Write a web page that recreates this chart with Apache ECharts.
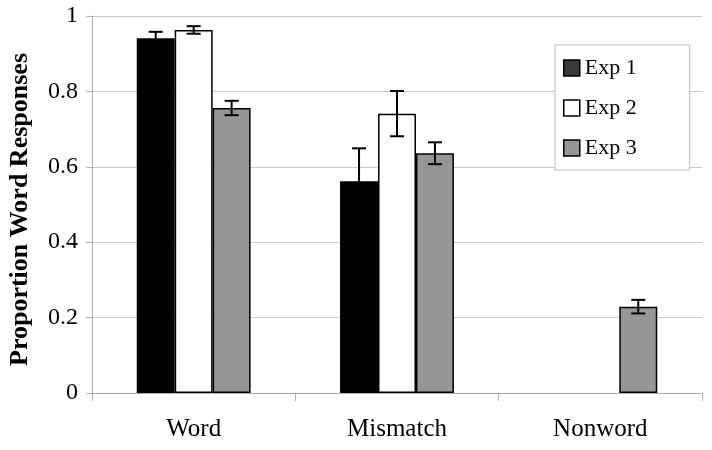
<!DOCTYPE html>
<html>
<head>
<meta charset="utf-8">
<script src="https://cdn.jsdelivr.net/npm/echarts@6/dist/echarts.min.js"></script>
<style>html,body{margin:0;padding:0;background:#fff}#c{width:712px;height:450px}</style>
</head>
<body>
<div id="c"></div>
<script>
var categories = ['Word', 'Mismatch', 'Nonword'];
var seriesNames = ['Exp 1', 'Exp 2', 'Exp 3'];
var exp1 = [0.941, 0.562, null];
var exp2 = [0.963, 0.741, null];
var exp3 = [0.756, 0.636, 0.229];
var exp1Err = [0.017, 0.087, null];
var exp2Err = [0.010, 0.060, null];
var exp3Err = [0.019, 0.029, 0.018];
var yTicks = ['0', '0.2', '0.4', '0.6', '0.8', '1'];

var FONT = 'Liberation Serif';
var fills = ['#000000', '#ffffff', '#969696'];
var legendFills = ['#3a3a3a', '#ffffff', '#969696'];
var values = [exp1, exp2, exp3];
var errs = [exp1Err, exp2Err, exp3Err];
var GAP = 0.44;

var chart = echarts.init(document.getElementById('c'));
var series = [];
values.forEach(function (vals, i) {
  series.push({
    name: seriesNames[i],
    type: 'bar',
    data: vals,
    barGap: 0,
    barCategoryGap: (GAP * 100) + '%',
    itemStyle: { color: fills[i], borderColor: '#000', borderWidth: 1.5 },
    z: 2
  });
});
values.forEach(function (vals, i) {
  var d = [];
  vals.forEach(function (v, k) {
    if (v != null && errs[i][k] != null) d.push([k, v - errs[i][k], v + errs[i][k]]);
  });
  series.push({
    type: 'custom',
    data: d,
    z: 5,
    silent: true,
    encode: { x: 0, y: [1, 2] },
    renderItem: function (params, api) {
      var idx = api.value(0);
      var band = api.size([1, 0])[0];
      var bw = band * (1 - GAP) / 3;
      var base = api.coord([idx, 0])[0];
      var x = base + (i - 1) * bw;
      var lo = api.coord([idx, api.value(1)])[1];
      var hi = api.coord([idx, api.value(2)])[1];
      var cap = 7;
      var st = { stroke: '#000', lineWidth: 2 };
      return {
        type: 'group',
        children: [
          { type: 'line', shape: { x1: x, y1: lo, x2: x, y2: hi }, style: st },
          { type: 'line', shape: { x1: x - cap, y1: hi, x2: x + cap, y2: hi }, style: st },
          { type: 'line', shape: { x1: x - cap, y1: lo, x2: x + cap, y2: lo }, style: st }
        ]
      };
    }
  });
});

chart.setOption({
  animation: false,
  backgroundColor: '#fff',
  grid: { left: 92, right: 10, top: 16, bottom: 57, containLabel: false, outerBoundsMode: 'none' },
  legend: {
    orient: 'vertical',
    left: 555,
    top: 45,
    padding: [12, 53, 11, 8],
    itemGap: 18,
    itemWidth: 16,
    itemHeight: 16,
    borderColor: '#bbbbbb',
    borderWidth: 1,
    backgroundColor: '#fff',
    textStyle: { fontFamily: FONT, fontSize: 22, color: '#000' },
    data: seriesNames.map(function (n, i) {
      return { name: n, icon: 'rect', itemStyle: { color: legendFills[i], borderColor: '#000', borderWidth: 1.5 } };
    })
  },
  xAxis: {
    type: 'category',
    data: categories,
    axisLine: { lineStyle: { color: '#b0b0b0', width: 1 } },
    axisTick: { show: true, alignWithLabel: false, length: 8, lineStyle: { color: '#b0b0b0' } },
    axisLabel: { fontFamily: FONT, fontSize: 25, color: '#000', margin: 24 }
  },
  yAxis: {
    type: 'value',
    min: 0,
    max: 1,
    interval: 0.2,
    name: 'Proportion Word Responses',
    nameLocation: 'middle',
    nameGap: 59,
    nameTextStyle: { fontFamily: FONT, fontSize: 26, fontWeight: 'bold', color: '#000', padding: [0, 10, 0, 0] },
    axisLine: { show: true, lineStyle: { color: '#b0b0b0', width: 1 } },
    axisTick: { show: true, length: 6, lineStyle: { color: '#b0b0b0' } },
    splitLine: { lineStyle: { color: '#cccccc', width: 1 } },
    axisLabel: {
      fontFamily: FONT, fontSize: 24, color: '#000', margin: 14,
      formatter: function (v) { return yTicks[Math.round(v / 0.2)]; }
    }
  },
  series: series
});
</script>
</body>
</html>
